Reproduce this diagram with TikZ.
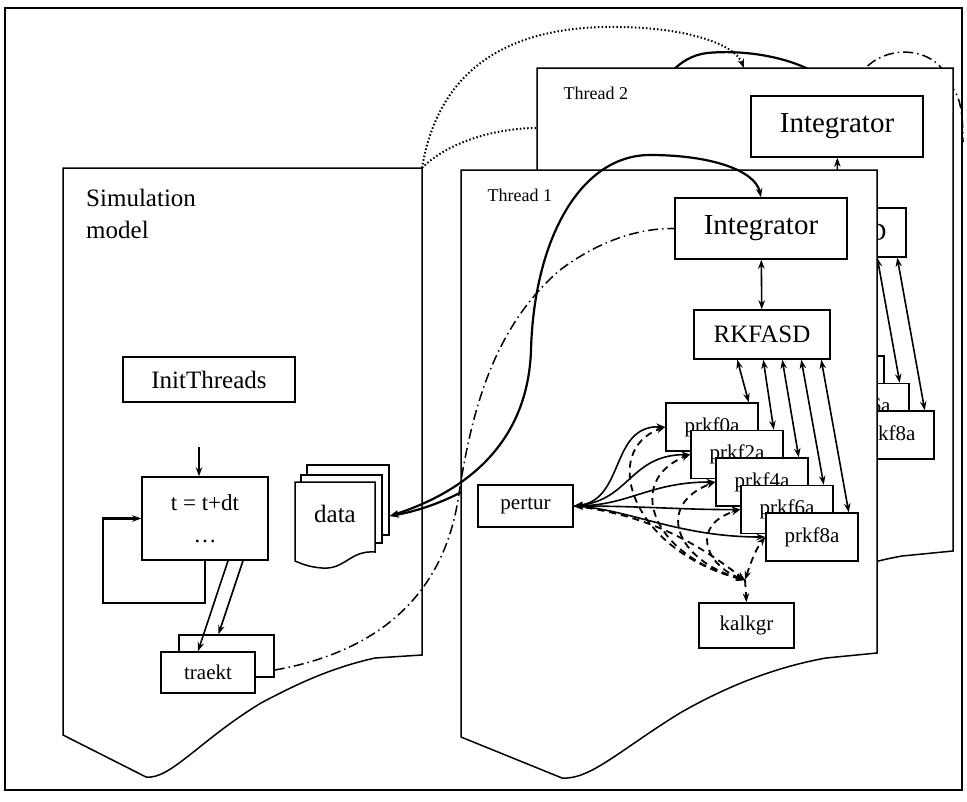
\documentclass[tikz,border=0pt]{standalone}
\usepackage{fontspec}
\setmainfont{Liberation Serif}
\usetikzlibrary{arrows.meta}
\pgfdeclarelayer{behind}
\pgfsetlayers{behind,main}

\tikzset{
  box/.style={draw, fill=white, line width=1.5pt, inner sep=0pt},
  panel/.style={draw, line width=1.5pt},
  txtbig/.style={font=\fontsize{29}{32}\selectfont},
  txtmid/.style={font=\fontsize{25}{32}\selectfont},
  txtstep/.style={font=\fontsize{23}{32}\selectfont},
  txtsmall/.style={font=\fontsize{21}{24}\selectfont},
  txtlabel/.style={font=\fontsize{18}{20}\selectfont},
  linkline/.style={line width=1.6pt},
  curveline/.style={line width=2.2pt},
  dashdot/.style={line width=1.5pt, dash pattern=on 10pt off 4pt on 1.5pt off 4pt},
  dotline/.style={line width=2pt, dash pattern=on 1.5pt off 2.2pt},
  kdash/.style={line width=1.8pt, dash pattern=on 7pt off 5pt},
  >={Stealth[length=9pt,width=6.5pt]}
}

\begin{document}
\begin{tikzpicture}[x=1pt,y=-1pt]
    \useasboundingbox (0,0) rectangle (967,801);
    % Рамка
    \draw[line width=1.6pt] (5,8) rectangle (962,790);

    % Simulation model
    \draw[panel] (63,168) -- (422,168) -- (422,655) -- (375,658)
        .. controls (330,668) and (295,685) .. (261,703)
        .. controls (200,740) and (170,780) .. (146,777) -- (63,735) -- cycle;
    \node[txtmid, align=left, anchor=north west, inner sep=0pt] (simlabel) at (86,189) {Simulation\\model};
    \node[box, txtmid, minimum width=172pt, minimum height=45pt] (initth) at (209,379.5) {InitThreads};
    \node[box, txtstep, minimum width=126pt, minimum height=83pt, align=center] (stepbox) at (205,518.5) {t = t+dt\\\dots};
    \coordinate (stepin) at (199,447);
    \draw[->, linkline] (stepin) -- (stepin |- stepbox.north);
    \draw[->, line width=2.4pt] (stepbox.south) -- ++(0,42) -| ([xshift=-38pt]stepbox.west) -- (stepbox.west);

    % traekt
    \node[box, minimum width=95pt, minimum height=42pt] (traektbk) at (226.5,656) {};
    \node[box, txtsmall, minimum width=94pt, minimum height=41pt] (traekt) at (208,672.5) {traekt};
    \draw[->, linkline] ([xshift=23pt]stepbox.south) -- ([xshift=-10pt]traekt.north);
    \draw[->, linkline] ([xshift=38pt]stepbox.south) -- ([xshift=-8pt]traektbk.north);

    % data
    \node[box, minimum width=82pt, minimum height=70pt] (datapg3) at (348,500) {};
    \node[box, minimum width=81pt, minimum height=68pt] (datapg2) at (341.5,509) {};
    \draw[box] (295,482) -- (375,482) -- (375,552) .. controls (350,550) and (345,570) .. (322,568)
        .. controls (308,567) and (300,563) .. (295,561) -- cycle;
    \node[txtmid] (data) at (335,514) {data};

    % Thread 2
    \begin{scope}[shift={(76,-102)}]
        \draw[panel, fill=white] (461,170) -- (877,170) -- (877,653) -- (826,658)
            .. controls (770,668) and (720,690) .. (680,713)
            .. controls (620,750) and (590,780) .. (562,778) -- (461,737) -- cycle;
        \node[txtlabel, anchor=west] (thrB) at (484,195) {Thread 2};
        \node[box, txtbig, minimum width=172pt, minimum height=61pt] (integB) at (761,228.5) {Integrator};
        \node[box, txtmid, minimum width=136pt, minimum height=49pt] (rkfB) at (762,334.5) {RKFASD};
        \foreach \n/\i in {4/2,6/3,8/4}
            \node[box, txtsmall, minimum width=92pt, minimum height=48pt] (prkf\n B) at (712+25*\i,427+27.5*\i) {prkf\n a};
    \end{scope}
    \draw[<->, linkline] (integB) -- (rkfB);
    \foreach \n/\dx in {4/89,6/108,8/128}
        \draw[<->, linkline] ([xshift=\dx pt]rkfB.south west) -- ([xshift=-10pt]prkf\n B.north east);

    % Thread 2 links (under the boxes)
    \coordinate (ddA) at (850,100);
    \coordinate (ddB) at (963,142);
    \begin{pgfonlayer}{behind}
        \draw[<->, curveline] ([yshift=-16pt]datapg3.east) .. controls (480,500) and (600,420) .. (620,250)
            .. controls (630,150) and (650,60) .. (707,53) .. controls (760,48) and (820,65) .. (integB.north);
        \draw[dashdot] (ddA) .. controls (860,40) and (935,40) .. (948,80)
            .. controls (952,92) and (963,88) .. (ddB);
    \end{pgfonlayer}

    % Thread 1
    \draw[panel, fill=white] (461,170) -- (877,170) -- (877,653) -- (826,658)
        .. controls (770,668) and (720,690) .. (680,713)
        .. controls (620,750) and (590,780) .. (562,778) -- (461,737) -- cycle;
    \node[txtlabel, anchor=west] (thrA) at (484,195) {Thread 1};
    \node[box, txtbig, minimum width=172pt, minimum height=61pt] (integA) at (761,228.5) {Integrator};
    \node[box, txtmid, minimum width=136pt, minimum height=49pt] (rkfA) at (762,334.5) {RKFASD};
    \foreach \n/\i in {0/0,2/1,4/2,6/3,8/4}
        \node[box, txtsmall, minimum width=92pt, minimum height=48pt] (prkf\n A) at (712+25*\i,427+27.5*\i) {prkf\n a};
    \node[box, txtsmall, minimum width=95pt, minimum height=42pt] (perturA) at (525.5,506) {pertur};
    \node[box, txtsmall, minimum width=95pt, minimum height=45pt] (kalkgrA) at (746.5,625.5) {kalkgr};
    \coordinate (kalkin) at (745,580);

    \draw[<->, linkline] (integA) -- (rkfA);
    \foreach \n/\dx in {0/44,2/70,4/89,6/108,8/128}
        \draw[<->, linkline] ([xshift=\dx pt]rkfA.south west) -- ([xshift=-10pt]prkf\n A.north east);
    \foreach \n/\ax/\ay/\bx/\by in {0/625/500/610/425, 2/630/500/630/455, 4/630/505/650/482, 6/640/506/690/510, 8/630/510/680/537}
        \draw[<->, linkline] (perturA.east) .. controls (\ax,\ay) and (\bx,\by) .. (prkf\n A.west);
    \foreach \n/\ax/\ay/\bx/\by in {0/630/550/600/450, 2/650/555/625/480, 4/675/560/655/505, 6/705/565/690/525, 8/750/565/755/550}
        \draw[<->, kdash] (kalkin) .. controls (\ax,\ay) and (\bx,\by) .. (prkf\n A.west);
    \draw[->, kdash] (perturA.east) .. controls (650,515) and (700,545) .. (kalkin);
    \draw[->, kdash] (kalkin) -- (kalkgrA.north);

    % Thread 1 links
    \draw[<->, curveline] ([yshift=-16pt]datapg3.east) .. controls (470,490) and (528,440) .. (531,350)
        .. controls (534,240) and (580,155) .. (650,155) .. controls (710,155) and (755,170) .. (integA.north);
    \draw[dashdot] ([yshift=-14pt]traektbk.east) .. controls (360,655) and (440,610) .. (458,500)
        .. controls (470,420) and (490,330) .. (560,270) .. controls (600,240) and (640,228) .. (integA.west);

    % точкові лінії
    \coordinate (simTR) at (422,168);
    \coordinate (thrBleft) at (537,128);
    \coordinate (thrBtop) at (744,68);
    \draw[dotline] (simTR) .. controls (450,140) and (500,128) .. (thrBleft);
    \draw[->, dotline] (simTR) .. controls (440,60) and (520,25) .. (620,27) .. controls (690,28) and (735,45) .. (thrBtop);
\end{tikzpicture}
\end{document}
